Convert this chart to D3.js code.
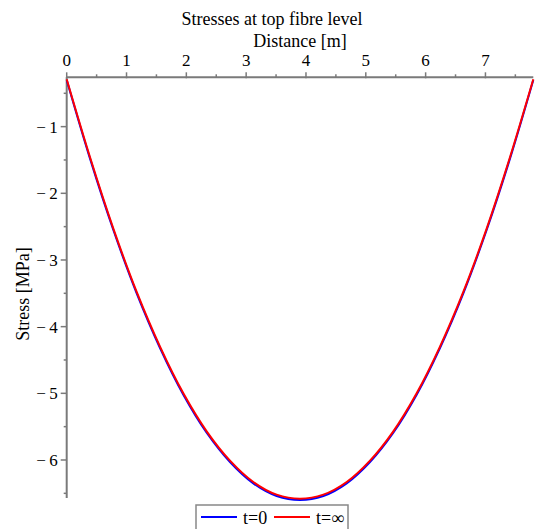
<!DOCTYPE html>
<html>
<head>
<meta charset="utf-8">
<script src="https://cdn.jsdelivr.net/npm/d3@7"></script>
<style>
	html, body { margin: 0; padding: 0; background: #fff; }
	svg { display: block; font-family: "Liberation Serif", "Times New Roman", serif; }
</style>
</head>
<body>
<svg id="chart" width="539" height="529"></svg>
<script>
//=============== 데이터 =======================================
var distance = [0, 0.39, 0.78, 1.17, 1.56, 1.95, 2.34, 2.73, 3.12, 3.51, 3.90,
	4.29, 4.68, 5.07, 5.46, 5.85, 6.24, 6.63, 7.02, 7.41, 7.80];
var stressT0 = [-0.30, -1.48, -2.55, -3.50, -4.32, -5.02, -5.59, -6.03, -6.35, -6.54, -6.60,
	-6.54, -6.35, -6.03, -5.59, -5.02, -4.32, -3.50, -2.55, -1.48, -0.30];
var stressTinf = [-0.29, -1.46, -2.53, -3.48, -4.30, -5.00, -5.57, -6.01, -6.33, -6.52, -6.58,
	-6.52, -6.33, -6.01, -5.57, -5.00, -4.30, -3.48, -2.53, -1.46, -0.29];
var xTicks = [0, 1, 2, 3, 4, 5, 6, 7];
var yTicks = [-1, -2, -3, -4, -5, -6];
var seriesNames = ["t=0", "t=\u221E"];
var seriesColors = ["#0000ff", "#ff0000"];

//=============== 차트 =======================================
var svg = d3.select("#chart");
var axisColor = "#7a7a7a";

var x = d3.scaleLinear().domain([0, 7.8]).range([66.7, 533.3]);
var y = d3.scaleLinear().domain([-0.26, -6.57]).range([77.3, 498]);

// 제목
svg.append("text")
	.attr("x", 272)
	.attr("y", 25)
	.attr("text-anchor", "middle")
	.style("font-size", "18px")
	.text("Stresses at top fibre level");

svg.append("text")
	.attr("x", 300)
	.attr("y", 47)
	.attr("text-anchor", "middle")
	.style("font-size", "18px")
	.text("Distance [m]");

// Y축 제목
svg.append("text")
	.attr("transform", "translate(29,294) rotate(-90)")
	.attr("text-anchor", "middle")
	.style("font-size", "18px")
	.text("Stress [MPa]");

// X축 (위쪽)
var xAxis = svg.append("g").attr("transform", `translate(0,${y(-0.26)})`);
xAxis.append("line")
	.attr("x1", x(0)).attr("x2", x(7.8))
	.attr("stroke", axisColor).attr("stroke-width", 2);
xAxis.selectAll(".minor")
	.data(d3.range(0.5, 7.8, 1))
	.enter().append("line")
	.attr("x1", d => x(d)).attr("x2", d => x(d))
	.attr("y1", -3).attr("y2", 0)
	.attr("stroke", axisColor).attr("stroke-width", 1.5);
xAxis.selectAll(".major")
	.data(xTicks)
	.enter().append("line")
	.attr("x1", d => x(d)).attr("x2", d => x(d))
	.attr("y1", -5).attr("y2", 1)
	.attr("stroke", axisColor).attr("stroke-width", 1.5);
xAxis.selectAll(".label")
	.data(xTicks)
	.enter().append("text")
	.attr("x", d => x(d))
	.attr("y", -11)
	.attr("text-anchor", "middle")
	.style("font-size", "17px")
	.text(d => d);

// Y축 (왼쪽)
var yAxis = svg.append("g").attr("transform", `translate(${x(0)},0)`);
yAxis.append("line")
	.attr("y1", y(-0.26)).attr("y2", y(-6.57))
	.attr("stroke", axisColor).attr("stroke-width", 2);
yAxis.selectAll(".minor")
	.data(d3.range(-0.5, -6.6, -1))
	.enter().append("line")
	.attr("y1", d => y(d)).attr("y2", d => y(d))
	.attr("x1", -3).attr("x2", 0)
	.attr("stroke", axisColor).attr("stroke-width", 1.5);
yAxis.selectAll(".major")
	.data(yTicks)
	.enter().append("line")
	.attr("y1", d => y(d)).attr("y2", d => y(d))
	.attr("x1", -6).attr("x2", 0)
	.attr("stroke", axisColor).attr("stroke-width", 1.5);
yAxis.selectAll(".label")
	.data(yTicks)
	.enter().append("text")
	.attr("x", -9)
	.attr("y", d => y(d))
	.attr("dy", "0.35em")
	.attr("text-anchor", "end")
	.style("font-size", "17px")
	.text(d => "\u2212\u2009" + Math.abs(d));

// 곡선
var line = d3.line()
	.x((d, i) => x(distance[i]))
	.y(d => y(d))
	.curve(d3.curveCatmullRom);

[stressT0, stressTinf].forEach((s, i) => {
	svg.append("path")
		.attr("d", line(s))
		.attr("fill", "none")
		.attr("stroke", seriesColors[i])
		.attr("stroke-width", 2);
});

// 범례
var legend = svg.append("g");
legend.append("rect")
	.attr("x", 196).attr("y", 505)
	.attr("width", 152).attr("height", 30)
	.attr("fill", "#fff")
	.attr("stroke", "#888").attr("stroke-width", 1.5);

var legendX = [201, 274];
seriesNames.forEach((name, i) => {
	legend.append("line")
		.attr("x1", legendX[i]).attr("x2", legendX[i] + 36)
		.attr("y1", 517).attr("y2", 517)
		.attr("stroke", seriesColors[i]).attr("stroke-width", 2);
	legend.append("text")
		.attr("x", legendX[i] + 42)
		.attr("y", 524)
		.style("font-size", "18px")
		.text(name);
});
</script>
</body>
</html>
